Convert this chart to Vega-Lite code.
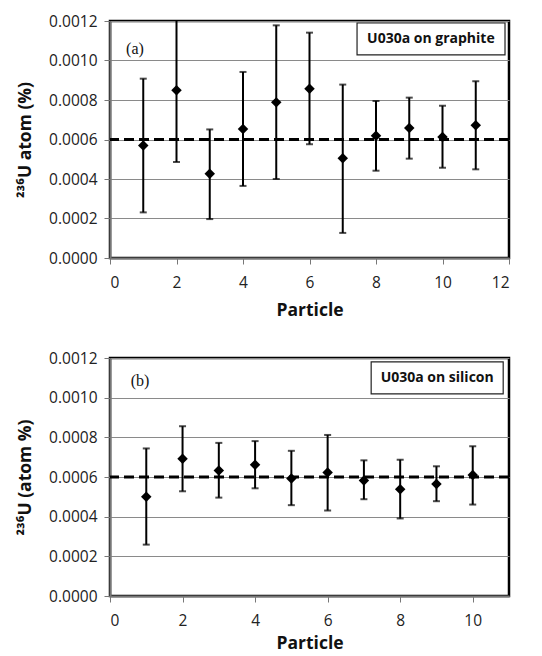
{
  "$schema": "https://vega.github.io/schema/vega-lite/v6.json",
  "background": "white",
  "padding": {"left": 15, "top": 12, "right": 5, "bottom": 0},
  "spacing": 28,
  "config": {
    "font": "Open Sans",
    "view": {"stroke": "#000", "strokeWidth": 2.5},
    "axis": {
      "labelFont": "Open Sans", "labelFontSize": 15.5, "labelColor": "#222",
      "titleFont": "Open Sans", "titleFontSize": 17.5, "titleFontWeight": "bold", "titleColor": "#111",
      "domainColor": "#777", "domainWidth": 2, "tickColor": "#777", "tickSize": 6, "labelPadding": 7,
      "gridColor": "#8a8a8a", "gridWidth": 1
    },
    "axisX": {"labelPadding": 11, "titlePadding": 11}
  },
  "datasets": {
    "a": [
      {"particle": 1, "value": 0.000570, "lo": 0.000231, "hi": 0.000908},
      {"particle": 2, "value": 0.000849, "lo": 0.000486, "hi": 0.00121},
      {"particle": 3, "value": 0.000427, "lo": 0.000197, "hi": 0.000651},
      {"particle": 4, "value": 0.000653, "lo": 0.000365, "hi": 0.000942},
      {"particle": 5, "value": 0.000788, "lo": 0.000400, "hi": 0.001178},
      {"particle": 6, "value": 0.000857, "lo": 0.000576, "hi": 0.001141},
      {"particle": 7, "value": 0.000505, "lo": 0.000127, "hi": 0.000878},
      {"particle": 8, "value": 0.000619, "lo": 0.000442, "hi": 0.000795},
      {"particle": 9, "value": 0.000658, "lo": 0.000503, "hi": 0.000812},
      {"particle": 10, "value": 0.000613, "lo": 0.000457, "hi": 0.000771},
      {"particle": 11, "value": 0.000672, "lo": 0.000449, "hi": 0.000895}
    ],
    "b": [
      {"particle": 1, "value": 0.000501, "lo": 0.000259, "hi": 0.000744},
      {"particle": 2, "value": 0.000692, "lo": 0.000528, "hi": 0.000856},
      {"particle": 3, "value": 0.000633, "lo": 0.000496, "hi": 0.000772},
      {"particle": 4, "value": 0.000662, "lo": 0.000543, "hi": 0.000781},
      {"particle": 5, "value": 0.000593, "lo": 0.000458, "hi": 0.000732},
      {"particle": 6, "value": 0.000623, "lo": 0.000431, "hi": 0.000812},
      {"particle": 7, "value": 0.000582, "lo": 0.000488, "hi": 0.000684},
      {"particle": 8, "value": 0.000538, "lo": 0.000391, "hi": 0.000687},
      {"particle": 9, "value": 0.000565, "lo": 0.000478, "hi": 0.000654},
      {"particle": 10, "value": 0.000610, "lo": 0.000461, "hi": 0.000755}
    ],
    "refLine": [{"ref": 0.0006}],
    "tagA": [{"lbl": "(a)", "tx": 0.75, "ty": 0.00106}],
    "boxA": [{"lbl": "U030a on graphite", "bx1": 7.43, "bx2": 11.88, "by1": 0.00119, "by2": 0.001028, "tx": 9.65, "ty": 0.001109}],
    "tagB": [{"lbl": "(b)", "tx": 0.83, "ty": 0.001085}],
    "boxB": [{"lbl": "U030a on silicon", "bx1": 7.2, "bx2": 10.84, "by1": 0.00118, "by2": 0.001019, "tx": 9.02, "ty": 0.0011}]
  },
  "vconcat": [
    {
      "width": 399, "height": 237,
      "encoding": {
        "x": {"type": "quantitative", "scale": {"domain": [0, 12], "nice": false},
              "axis": {"values": [0, 2, 4, 6, 8, 10, 12], "grid": false, "title": "Particle"}},
        "y": {"type": "quantitative", "scale": {"domain": [0, 0.0012], "nice": false},
              "axis": {"values": [0, 0.0002, 0.0004, 0.0006, 0.0008, 0.001, 0.0012], "format": ".4f", "title": "²³⁶U atom (%)", "titlePadding": 14}}
      },
      "layer": [
        {"data": {"name": "refLine"},
         "mark": {"type": "rule", "color": "#000", "strokeWidth": 3.2, "strokeDash": [10, 5]},
         "encoding": {"y": {"field": "ref", "type": "quantitative"}}},
        {"data": {"name": "a"},
         "mark": {"type": "rule", "color": "#000", "strokeWidth": 2, "clip": true},
         "encoding": {"x": {"field": "particle", "type": "quantitative"}, "y": {"field": "lo", "type": "quantitative"}, "y2": {"field": "hi"}}},
        {"data": {"name": "a"},
         "mark": {"type": "tick", "orient": "horizontal", "color": "#000", "size": 7, "thickness": 2, "clip": true},
         "encoding": {"x": {"field": "particle", "type": "quantitative"}, "y": {"field": "lo", "type": "quantitative"}}},
        {"data": {"name": "a"},
         "mark": {"type": "tick", "orient": "horizontal", "color": "#000", "size": 7, "thickness": 2, "clip": true},
         "encoding": {"x": {"field": "particle", "type": "quantitative"}, "y": {"field": "hi", "type": "quantitative"}}},
        {"data": {"name": "a"},
         "mark": {"type": "point", "shape": "diamond", "filled": true, "color": "#000", "size": 110, "opacity": 1},
         "encoding": {"x": {"field": "particle", "type": "quantitative"}, "y": {"field": "value", "type": "quantitative"}}},
        {"data": {"name": "tagA"},
         "mark": {"type": "text", "font": "Liberation Serif", "fontSize": 16, "color": "#111"},
         "encoding": {"x": {"field": "tx", "type": "quantitative"}, "y": {"field": "ty", "type": "quantitative"}, "text": {"field": "lbl"}}},
        {"data": {"name": "boxA"},
         "mark": {"type": "rect", "fill": "white", "stroke": "#222", "strokeWidth": 1.2},
         "encoding": {"x": {"field": "bx1", "type": "quantitative"}, "x2": {"field": "bx2"}, "y": {"field": "by1", "type": "quantitative"}, "y2": {"field": "by2"}}},
        {"data": {"name": "boxA"},
         "mark": {"type": "text", "font": "Open Sans", "fontWeight": "bold", "fontSize": 14, "color": "#111"},
         "encoding": {"x": {"field": "tx", "type": "quantitative"}, "y": {"field": "ty", "type": "quantitative"}, "text": {"field": "lbl"}}}
      ]
    },
    {
      "width": 399, "height": 238,
      "encoding": {
        "x": {"type": "quantitative", "scale": {"domain": [0, 11], "nice": false},
              "axis": {"values": [0, 2, 4, 6, 8, 10], "grid": false, "title": "Particle", "titlePadding": 6}},
        "y": {"type": "quantitative", "scale": {"domain": [0, 0.0012], "nice": false},
              "axis": {"values": [0, 0.0002, 0.0004, 0.0006, 0.0008, 0.001, 0.0012], "format": ".4f", "title": "²³⁶U  (atom %)", "titlePadding": 14}}
      },
      "layer": [
        {"data": {"name": "refLine"},
         "mark": {"type": "rule", "color": "#000", "strokeWidth": 3.2, "strokeDash": [10, 5]},
         "encoding": {"y": {"field": "ref", "type": "quantitative"}}},
        {"data": {"name": "b"},
         "mark": {"type": "rule", "color": "#000", "strokeWidth": 2, "clip": true},
         "encoding": {"x": {"field": "particle", "type": "quantitative"}, "y": {"field": "lo", "type": "quantitative"}, "y2": {"field": "hi"}}},
        {"data": {"name": "b"},
         "mark": {"type": "tick", "orient": "horizontal", "color": "#000", "size": 7, "thickness": 2, "clip": true},
         "encoding": {"x": {"field": "particle", "type": "quantitative"}, "y": {"field": "lo", "type": "quantitative"}}},
        {"data": {"name": "b"},
         "mark": {"type": "tick", "orient": "horizontal", "color": "#000", "size": 7, "thickness": 2, "clip": true},
         "encoding": {"x": {"field": "particle", "type": "quantitative"}, "y": {"field": "hi", "type": "quantitative"}}},
        {"data": {"name": "b"},
         "mark": {"type": "point", "shape": "diamond", "filled": true, "color": "#000", "size": 110, "opacity": 1},
         "encoding": {"x": {"field": "particle", "type": "quantitative"}, "y": {"field": "value", "type": "quantitative"}}},
        {"data": {"name": "tagB"},
         "mark": {"type": "text", "font": "Liberation Serif", "fontSize": 16, "color": "#111"},
         "encoding": {"x": {"field": "tx", "type": "quantitative"}, "y": {"field": "ty", "type": "quantitative"}, "text": {"field": "lbl"}}},
        {"data": {"name": "boxB"},
         "mark": {"type": "rect", "fill": "white", "stroke": "#222", "strokeWidth": 1.2},
         "encoding": {"x": {"field": "bx1", "type": "quantitative"}, "x2": {"field": "bx2"}, "y": {"field": "by1", "type": "quantitative"}, "y2": {"field": "by2"}}},
        {"data": {"name": "boxB"},
         "mark": {"type": "text", "font": "Open Sans", "fontWeight": "bold", "fontSize": 14, "color": "#111"},
         "encoding": {"x": {"field": "tx", "type": "quantitative"}, "y": {"field": "ty", "type": "quantitative"}, "text": {"field": "lbl"}}}
      ]
    }
  ]
}
